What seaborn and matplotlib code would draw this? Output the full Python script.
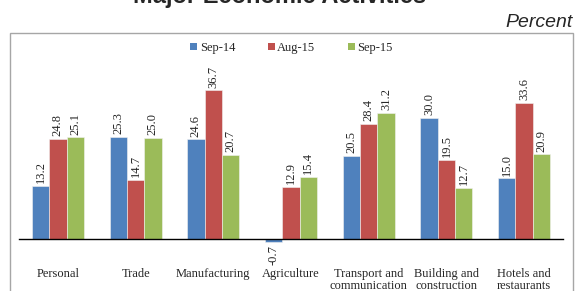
import matplotlib
matplotlib.use("Agg")
import matplotlib.pyplot as plt
from matplotlib.patches import Patch, Rectangle
import seaborn as sns
import pandas as pd

# Data
categories = ["Personal", "Trade", "Manufacturing", "Agriculture",
              "Transport and\ncommunication", "Building and\nconstruction",
              "Hotels and\nrestaurants"]
periods = ["Sep-14", "Aug-15", "Sep-15"]
sep14 = [13.2, 25.3, 24.6, -0.7, 20.5, 30.0, 15.0]
aug15 = [24.8, 14.7, 36.7, 12.9, 28.4, 19.5, 33.6]
sep15 = [25.1, 25.0, 20.7, 15.4, 31.2, 12.7, 20.9]
colors = ["#4F81BD", "#C0504D", "#9BBB59"]

# long format for seaborn
rows = []
for p, vals in zip(periods, [sep14, aug15, sep15]):
    for c, v in zip(categories, vals):
        rows.append({"Activity": c, "Period": p, "Value": v})
df = pd.DataFrame(rows)

sns.set_style("white")
plt.rcParams["font.family"] = ["Liberation Serif", "DejaVu Serif"]

fig = plt.figure(figsize=(5.77, 2.91), dpi=100)
ax = fig.add_axes([19 / 577, 1 - 288 / 291, 544 / 577, (288 - 68.8) / 291])

sns.barplot(data=df, x="Activity", y="Value", hue="Period", palette=colors,
            order=categories, hue_order=periods, width=0.67, saturation=1,
            edgecolor="#f2f2f2", linewidth=0.4, legend=False, ax=ax)

for cont in ax.containers:
    ax.bar_label(cont, fmt="%.1f", rotation=90, padding=2, fontsize=9)

ax.set_xlim(-0.5, 6.5)
ax.set_ylim(-12, 42)
ax.set_xlabel("")
ax.set_ylabel("")
ax.set_yticks([])

for s in ["top", "right", "left"]:
    ax.spines[s].set_visible(False)
ax.spines["bottom"].set_position(("data", 0))
ax.spines["bottom"].set_color("black")
ax.spines["bottom"].set_linewidth(1.0)

ax.set_xticks(range(len(categories)))
ax.set_xticklabels(categories, fontsize=9, linespacing=1.05)
ax.set_xticks([i - 0.5 for i in range(len(categories) + 1)], minor=True)
ax.tick_params(axis="x", which="major", length=0, pad=20.5)
ax.tick_params(axis="x", which="minor", length=3, width=1, color="black", direction="out")

# outer chart frame
fig.patches.append(Rectangle((10 / 577, -0.05), 563 / 577, 1 - 32.5 / 291 + 0.05,
                             transform=fig.transFigure, fill=False,
                             edgecolor="#a6a6a6", linewidth=1.0, zorder=0))

handles = [Patch(facecolor=c, edgecolor="none") for c in colors]
fig.legend(handles, periods, loc="center", bbox_to_anchor=(0.505, 0.835), ncol=3,
           frameon=False, fontsize=9, handlelength=0.55, handleheight=0.55,
           handletextpad=0.2, columnspacing=2.6)

fig.text(0.484, 0.991, "Major Economic Activities", ha="center", va="baseline",
         fontsize=17, fontweight="bold", family=["Liberation Sans", "DejaVu Sans"])
fig.text(0.992, 0.907, "Percent", ha="right", va="baseline", fontsize=14,
         style="italic", family=["Liberation Sans", "DejaVu Sans"])

fig.savefig("out.png", dpi=100)
